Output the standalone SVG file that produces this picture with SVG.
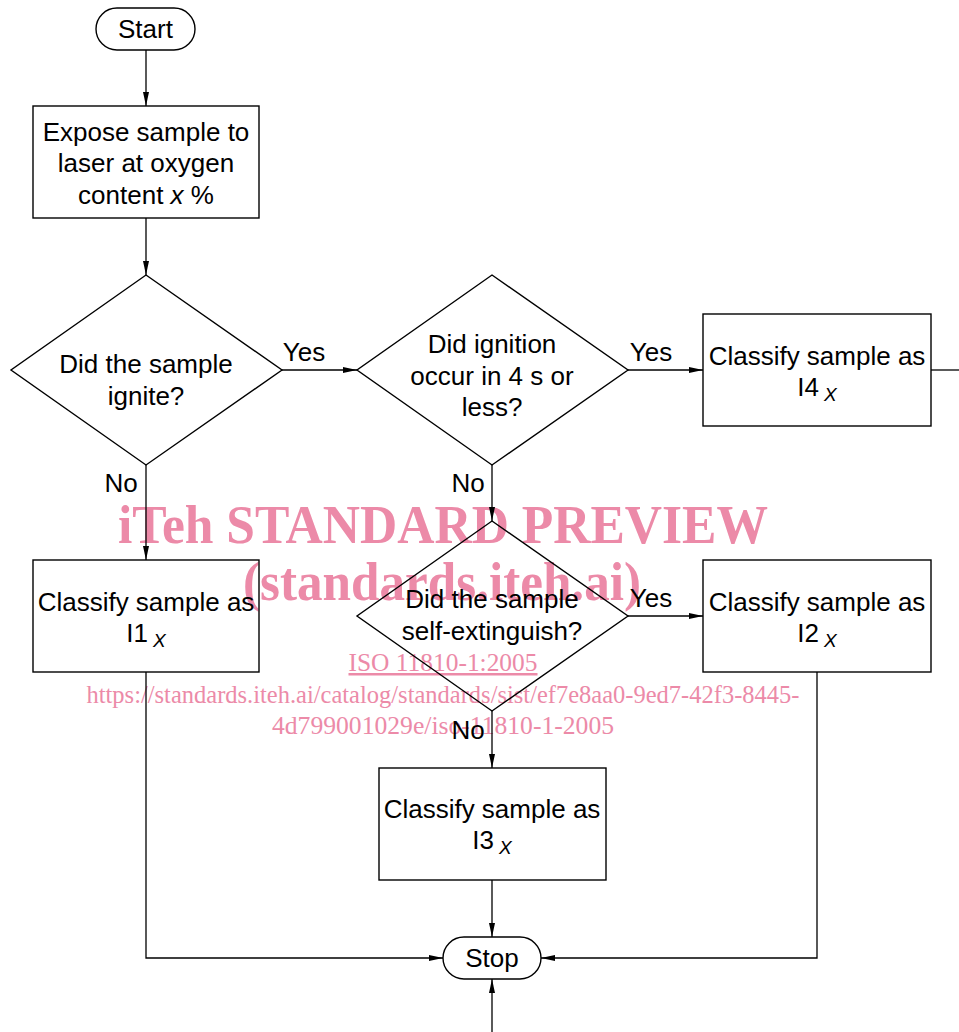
<svg xmlns="http://www.w3.org/2000/svg" width="959" height="1032" viewBox="0 0 959 1032">
<style>
.s{fill:none;stroke:#000;stroke-width:1.4}
.c{fill:none;stroke:#000;stroke-width:1.3}
.t{font-family:"Liberation Sans",Arial,sans-serif;font-size:26px;fill:#000;text-anchor:middle}
.sub{font-style:italic;font-size:19px}
.wm{font-family:"Liberation Serif","Times New Roman",serif;fill:#ec8aa8;text-anchor:middle}
</style>
<defs>
<marker id="a" markerWidth="14" markerHeight="8" refX="14" refY="4" orient="auto" markerUnits="userSpaceOnUse">
<path d="M0,1 L14,4 L0,7 Z" fill="#000"/>
</marker>
</defs>
<rect width="959" height="1032" fill="#fff"/>
<g id="watermark">
<text class="wm" x="443" y="543" font-size="54" font-weight="bold" textLength="650" lengthAdjust="spacingAndGlyphs">iTeh STANDARD PREVIEW</text>
<text class="wm" x="442" y="600" font-size="54" font-weight="bold" textLength="398" lengthAdjust="spacingAndGlyphs">(standards.iteh.ai)</text>
<text class="wm" x="443" y="671" font-size="25" textLength="189" lengthAdjust="spacingAndGlyphs" text-decoration="underline">ISO 11810-1:2005</text>
<text class="wm" x="443" y="703" font-size="25" textLength="713" lengthAdjust="spacingAndGlyphs">https://standards.iteh.ai/catalog/standards/sist/ef7e8aa0-9ed7-42f3-8445-</text>
<text class="wm" x="443" y="734" font-size="25" textLength="342" lengthAdjust="spacingAndGlyphs">4d799001029e/iso-11810-1-2005</text>
</g>
<g id="connectors">
<line class="c" x1="146" y1="50" x2="146" y2="106" marker-end="url(#a)"/>
<line class="c" x1="146" y1="218" x2="146" y2="275" marker-end="url(#a)"/>
<line class="c" x1="282" y1="370" x2="357" y2="370" marker-end="url(#a)"/>
<line class="c" x1="628" y1="370" x2="703" y2="370" marker-end="url(#a)"/>
<line class="c" x1="931" y1="370" x2="959" y2="370"/>
<line class="c" x1="146" y1="465" x2="146" y2="560" marker-end="url(#a)"/>
<line class="c" x1="492" y1="465" x2="492" y2="521" marker-end="url(#a)"/>
<line class="c" x1="628" y1="616" x2="703" y2="616" marker-end="url(#a)"/>
<line class="c" x1="492" y1="711" x2="492" y2="768" marker-end="url(#a)"/>
<line class="c" x1="492" y1="880" x2="492" y2="937" marker-end="url(#a)"/>
<polyline class="c" points="146,672 146,958 443,958" marker-end="url(#a)"/>
<polyline class="c" points="817,672 817,958 541,958" marker-end="url(#a)"/>
<line class="c" x1="492" y1="1032" x2="492" y2="979" marker-end="url(#a)"/>
<text class="t" x="304" y="361">Yes</text>
<text class="t" x="651" y="361">Yes</text>
<text class="t" x="651" y="607">Yes</text>
<text class="t" x="121" y="492">No</text>
<text class="t" x="468" y="492">No</text>
<text class="t" x="468" y="739">No</text>
</g>
<g id="start">
<rect class="s" x="96" y="8" width="99" height="42" rx="21"/>
<text class="t" x="145.5" y="38">Start</text>
</g>
<g id="expose">
<rect class="s" x="33" y="106" width="226" height="112"/>
<text class="t" x="146" y="141">Expose sample to</text>
<text class="t" x="146" y="172">laser at oxygen</text>
<text class="t" x="146" y="204">content <tspan font-style="italic">x</tspan> %</text>
</g>
<g id="ignite">
<polygon class="s" points="146,275 282,370 146,465 11,370"/>
<text class="t" x="146" y="373">Did the sample</text>
<text class="t" x="146" y="405">ignite?</text>
</g>
<g id="ignition4s">
<polygon class="s" points="492,275 628,370 492,465 357,370"/>
<text class="t" x="492" y="353">Did ignition</text>
<text class="t" x="492" y="385">occur in 4 s or</text>
<text class="t" x="492" y="416">less?</text>
</g>
<g id="i4">
<rect class="s" x="703" y="314" width="228" height="112"/>
<text class="t" x="817" y="365">Classify sample as</text>
<text class="t" x="817" y="396">I4<tspan class="sub" dx="5" dy="5">X</tspan></text>
</g>
<g id="i1">
<rect class="s" x="33" y="560" width="226" height="112"/>
<text class="t" x="146" y="611">Classify sample as</text>
<text class="t" x="146" y="642">I1<tspan class="sub" dx="5" dy="5">X</tspan></text>
</g>
<g id="selfext">
<polygon class="s" points="492,521 628,616 492,711 357,616"/>
<text class="t" x="492" y="608">Did the sample</text>
<text class="t" x="492" y="640">self-extinguish?</text>
</g>
<g id="i2">
<rect class="s" x="703" y="560" width="228" height="112"/>
<text class="t" x="817" y="611">Classify sample as</text>
<text class="t" x="817" y="642">I2<tspan class="sub" dx="5" dy="5">X</tspan></text>
</g>
<g id="i3">
<rect class="s" x="379" y="768" width="227" height="112"/>
<text class="t" x="492" y="818">Classify sample as</text>
<text class="t" x="492" y="849">I3<tspan class="sub" dx="5" dy="5">X</tspan></text>
</g>
<g id="stop">
<rect class="s" x="443" y="937" width="98" height="42" rx="21"/>
<text class="t" x="492" y="967">Stop</text>
</g>
</svg>
